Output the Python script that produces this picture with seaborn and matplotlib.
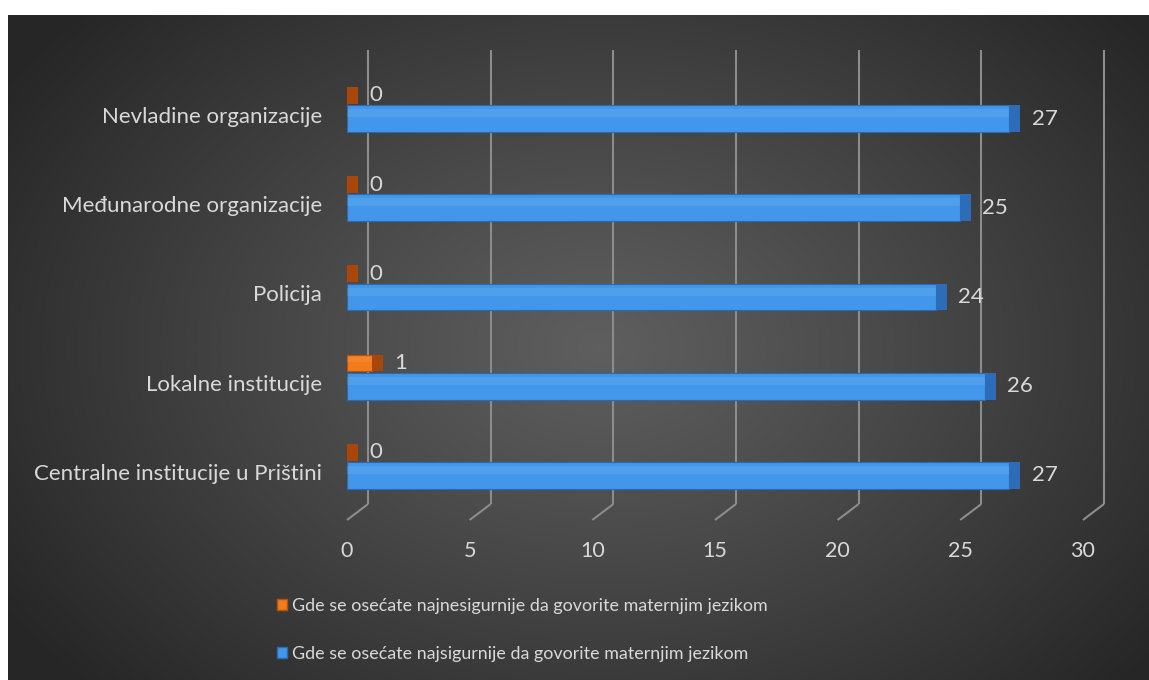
import numpy as np
import pandas as pd
import matplotlib
matplotlib.use("Agg")
import matplotlib.pyplot as plt
from matplotlib.patches import Patch, Rectangle
import seaborn as sns

categories = ["Nevladine organizacije", "Međunarodne organizacije", "Policija",
              "Lokalne institucije", "Centralne institucije u Prištini"]
series = ["Gde se osećate najnesigurnije da govorite maternjim jezikom",
          "Gde se osećate najsigurnije da govorite maternjim jezikom"]
unsafe_values = [0, 0, 0, 1, 0]
safe_values = [27, 25, 24, 26, 27]
x_ticks = [0, 5, 10, 15, 20, 25, 30]

colors = ["#F27B1C", "#4297EA"]
edge_colors = ["#B8520C", "#2A6AB0"]
cap_colors = ["#A9460A", "#2C6CB8"]
text_color = "#D9D9D9"

sns.set_theme(style="white")
FONT = "Lato"
plt.rcParams["font.family"] = [FONT, "DejaVu Sans"]

W, H = 1149, 680
fig = plt.figure(figsize=(W / 100, H / 100), dpi=100, facecolor="white")

# background radial gradient panel
bg = fig.add_axes([8 / W, 0, (W - 8) / W, (H - 15) / H], zorder=-5)
gx = np.linspace(0, 1, 600)
gy = np.linspace(0, 1, 360)
GX, GY = np.meshgrid(gx, gy)
r = np.sqrt(((GX - 0.52) / 0.62) ** 2 + ((GY - 0.5) / 0.75) ** 2)
r = np.clip(r, 0, 1)
c_in, c_out = 0.37, 0.15
img = c_in + (c_out - c_in) * r ** 1.1
bg.imshow(np.dstack([img, img, img]), aspect="auto", extent=[0, 1, 1, 0])
bg.set_axis_off()

# main axes
x0_px, ppu = 347, 24.53
top_px, bot_px = 40, 520
cat0_px, cat_step = 107, 89.2
ax = fig.add_axes([x0_px / W, 1 - bot_px / H, 30 * ppu / W, (bot_px - top_px) / H])
ax.set_facecolor("none")

df = pd.DataFrame({
    "category": categories * 2,
    "series": [series[0]] * 5 + [series[1]] * 5,
    "value": unsafe_values + safe_values,
})
sns.barplot(data=df, y="category", x="value", hue="series", hue_order=series,
            order=categories, orient="h", palette=colors, dodge=True, width=0.8,
            ax=ax, legend=False, saturation=1, zorder=3)

def py2d(p):
    return (p - cat0_px) / cat_step

ax.set_xlim(0, 30)
ax.set_ylim(py2d(bot_px), py2d(top_px))

# reshape bars to mimic the 3D layout
offsets = [-0.13, 0.13]
heights = [0.19, 0.30]
depth = 0.45
for k, cont in enumerate(ax.containers):
    for rect in cont:
        idx = round(rect.get_y() + rect.get_height() / 2)
        h = heights[k]
        y0 = idx + offsets[k] - h / 2
        rect.set_y(y0)
        rect.set_height(h)
        rect.set_edgecolor(edge_colors[k])
        rect.set_linewidth(0.8)
        w = rect.get_width()
        # end cap (3D side)
        ax.add_patch(Rectangle((w, y0), depth, h, facecolor=cap_colors[k],
                               edgecolor="none", zorder=3))
        # highlight on upper part
        ax.add_patch(Rectangle((0, y0 + h * 0.15), w, h * 0.3,
                               facecolor="white", alpha=0.08, edgecolor="none", zorder=4))
    ax.bar_label(cont, padding=16, color=text_color, fontsize=16, family=[FONT, "DejaVu Sans"])

# back wall gridlines with floor diagonals
shift = 0.86
yb_front = py2d(bot_px)
yb_back = py2d(504)
y_top = py2d(50)
for t in x_ticks:
    ax.plot([t, t + shift], [yb_front, yb_back], color="#8C8C8C", lw=1.5,
            clip_on=False, zorder=1, solid_capstyle="butt")
    ax.plot([t + shift, t + shift], [yb_back, y_top], color="#8C8C8C", lw=1.5,
            clip_on=False, zorder=1, solid_capstyle="butt")

ax.set_xticks(x_ticks)
ax.set_xticklabels([str(t) for t in x_ticks])
ax.set_yticks(np.arange(len(categories)) + 0.09)
ax.set_yticklabels(categories)
ax.tick_params(axis="x", length=0, pad=15, labelsize=15.5, colors=text_color)
ax.tick_params(axis="y", length=0, pad=18, labelsize=16, colors=text_color)
ax.set_xlabel("")
ax.set_ylabel("")
for s in ax.spines.values():
    s.set_visible(False)
ax.grid(False)

handles = [Patch(facecolor=colors[0], edgecolor=edge_colors[0]),
           Patch(facecolor=colors[1], edgecolor=edge_colors[1])]
fig.legend(handles, series, loc="upper left", bbox_to_anchor=(277 / W, 1 - 598 / H),
           frameon=False, fontsize=12.9, labelcolor=text_color, handlelength=0.56,
           handleheight=0.56, handletextpad=0.28, labelspacing=1.8, borderpad=0,
           borderaxespad=0)

fig.savefig("out.png", dpi=100, facecolor="white")
